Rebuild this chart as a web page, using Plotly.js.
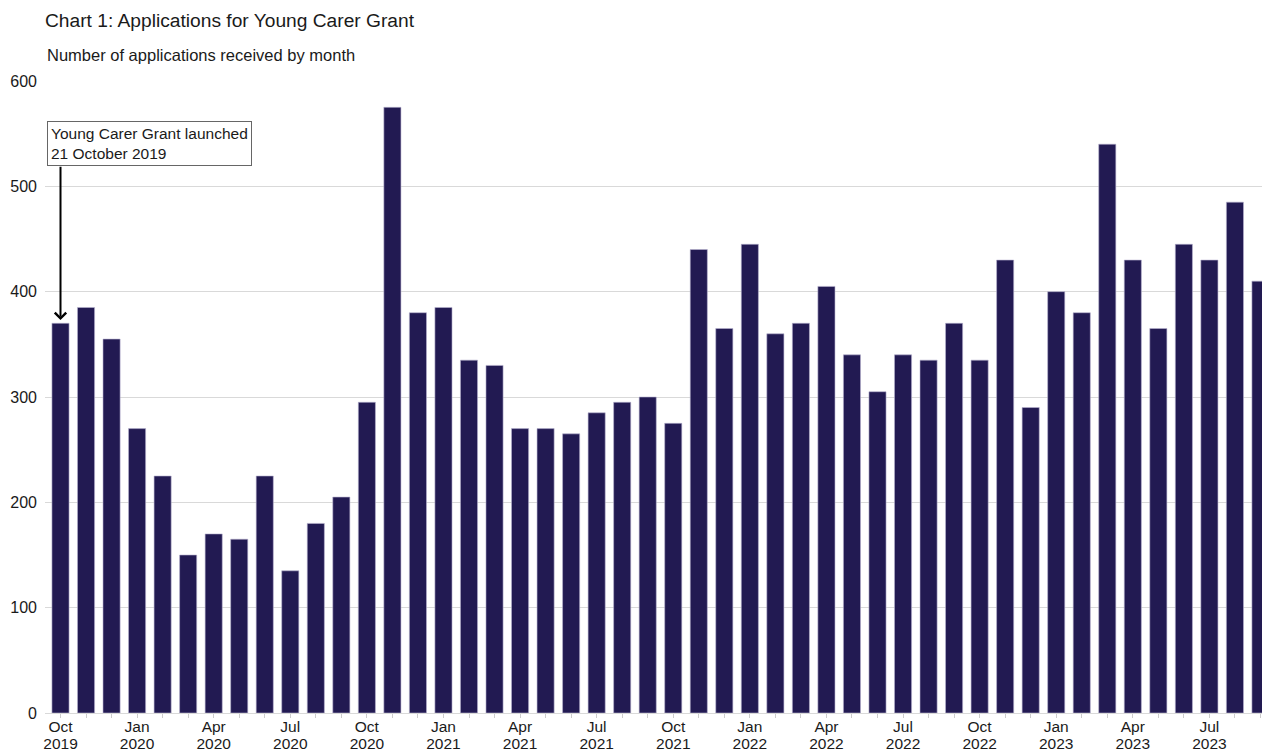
<!DOCTYPE html>
<html>
<head>
<meta charset="utf-8">
<script src="https://cdn.plot.ly/plotly-3.0.1.min.js"></script>
<style>html,body{margin:0;padding:0;background:#fff;}#chart{width:1262px;height:752px;}</style>
</head>
<body>
<div id="chart"></div>
<script>
// Months from October 2019 to September 2023
const months = [
  "Oct 2019","Nov 2019","Dec 2019",
  "Jan 2020","Feb 2020","Mar 2020","Apr 2020","May 2020","Jun 2020","Jul 2020","Aug 2020","Sep 2020","Oct 2020","Nov 2020","Dec 2020",
  "Jan 2021","Feb 2021","Mar 2021","Apr 2021","May 2021","Jun 2021","Jul 2021","Aug 2021","Sep 2021","Oct 2021","Nov 2021","Dec 2021",
  "Jan 2022","Feb 2022","Mar 2022","Apr 2022","May 2022","Jun 2022","Jul 2022","Aug 2022","Sep 2022","Oct 2022","Nov 2022","Dec 2022",
  "Jan 2023","Feb 2023","Mar 2023","Apr 2023","May 2023","Jun 2023","Jul 2023","Aug 2023","Sep 2023"
];
const applications = [
  370, 385, 355,
  270, 225, 150, 170, 165, 225, 135, 180, 205, 295, 575, 380,
  385, 335, 330, 270, 270, 265, 285, 295, 300, 275, 440, 365,
  445, 360, 370, 405, 340, 305, 340, 335, 370, 335, 430, 290,
  400, 380, 540, 430, 365, 445, 430, 485, 410
];
const tickMonths = ["Oct","Jan","Apr","Jul","Oct","Jan","Apr","Jul","Oct","Jan","Apr","Jul","Oct","Jan","Apr","Jul"];
const tickYears = ["2019","2020","2020","2020","2020","2021","2021","2021","2021","2022","2022","2022","2022","2023","2023","2023"];
const yTicks = [0, 100, 200, 300, 400, 500, 600];

const xIdx = months.map((m, i) => i);
const monthText = xIdx.map(i => (i % 3 === 0 ? tickMonths[i / 3] : ""));
const yearText = xIdx.map(i => (i % 3 === 0 ? tickYears[i / 3] : ""));

const FONT = "Liberation Sans, Arial, sans-serif";
const XRANGE = [-0.607, 47.06];

const trace = {
  type: "bar",
  x: xIdx,
  y: applications,
  customdata: months,
  hovertemplate: "%{customdata}: %{y}<extra></extra>",
  marker: {color: "#221A52", line: {color: "#b8b4d0", width: 0.6}}
};
// invisible helper trace so the year-label axis is drawn
const yearAxisTrace = {
  type: "scatter",
  x: xIdx,
  y: applications,
  xaxis: "x2",
  yaxis: "y",
  mode: "none",
  hoverinfo: "skip",
  showlegend: false
};

const layout = {
  width: 1262,
  height: 752,
  margin: {l: 45, r: 0, t: 81, b: 39, pad: 0},
  paper_bgcolor: "#ffffff",
  plot_bgcolor: "#ffffff",
  font: {family: FONT, color: "#1a1a1a", size: 16},
  showlegend: false,
  bargap: 0.33,
  title: {
    text: "Chart 1: Applications for Young Carer Grant",
    font: {family: FONT, size: 19.2, color: "#1a1a1a"},
    xref: "container", x: 45 / 1262, xanchor: "left",
    yref: "container", y: 1 - 20 / 752, yanchor: "middle"
  },
  xaxis: {
    range: XRANGE,
    tickmode: "array",
    tickvals: xIdx,
    ticktext: monthText,
    ticks: "outside",
    ticklen: 4,
    tickcolor: "#cccccc",
    tickangle: 0,
    ticklabelstandoff: -5,
    tickfont: {family: FONT, size: 15.5, color: "#1a1a1a"},
    showgrid: false,
    zeroline: false,
    showline: true,
    linecolor: "#d9d9d9",
    linewidth: 1,
    fixedrange: true
  },
  xaxis2: {
    range: XRANGE,
    overlaying: "x",
    anchor: "y",
    side: "bottom",
    tickmode: "array",
    tickvals: xIdx,
    ticktext: yearText,
    ticks: "",
    tickangle: 0,
    ticklabelstandoff: 19,
    tickfont: {family: FONT, size: 15.5, color: "#1a1a1a"},
    showgrid: false,
    zeroline: false,
    showline: false,
    fixedrange: true
  },
  yaxis: {
    range: [0, 600],
    tickmode: "array",
    tickvals: yTicks,
    ticktext: yTicks.map(String),
    ticks: "",
    ticklabelstandoff: 7,
    tickfont: {family: FONT, size: 16, color: "#1a1a1a"},
    showgrid: true,
    gridcolor: "#d9d9d9",
    gridwidth: 1,
    zeroline: true,
    zerolinecolor: "#d9d9d9",
    zerolinewidth: 1,
    showline: false,
    fixedrange: true
  },
  annotations: [
    {
      text: "Number of applications received by month",
      xref: "paper", x: 0, xanchor: "left",
      yref: "paper", y: 1 + 26 / 632, yanchor: "middle",
      showarrow: false,
      font: {family: FONT, size: 16.5, color: "#1a1a1a"}
    },
    {
      text: "Young Carer Grant launched<br>21 October 2019",
      xref: "paper", x: 2 / 1217, xanchor: "left",
      yref: "paper", y: (713 - 121) / 632, yanchor: "top",
      align: "left",
      showarrow: false,
      bgcolor: "#ffffff",
      bordercolor: "#666666",
      borderwidth: 1,
      borderpad: 3,
      font: {family: FONT, size: 15.5, color: "#1a1a1a"}
    },
    {
      text: "",
      xref: "x", x: 0,
      yref: "y", y: 373,
      axref: "x", ax: 0,
      ayref: "y", ay: 520,
      showarrow: true,
      arrowhead: 4,
      arrowsize: 1.1,
      arrowwidth: 2,
      arrowcolor: "#000000"
    }
  ]
};

Plotly.newPlot("chart", [trace, yearAxisTrace], layout, {displayModeBar: false, staticPlot: true});
</script>
</body>
</html>
